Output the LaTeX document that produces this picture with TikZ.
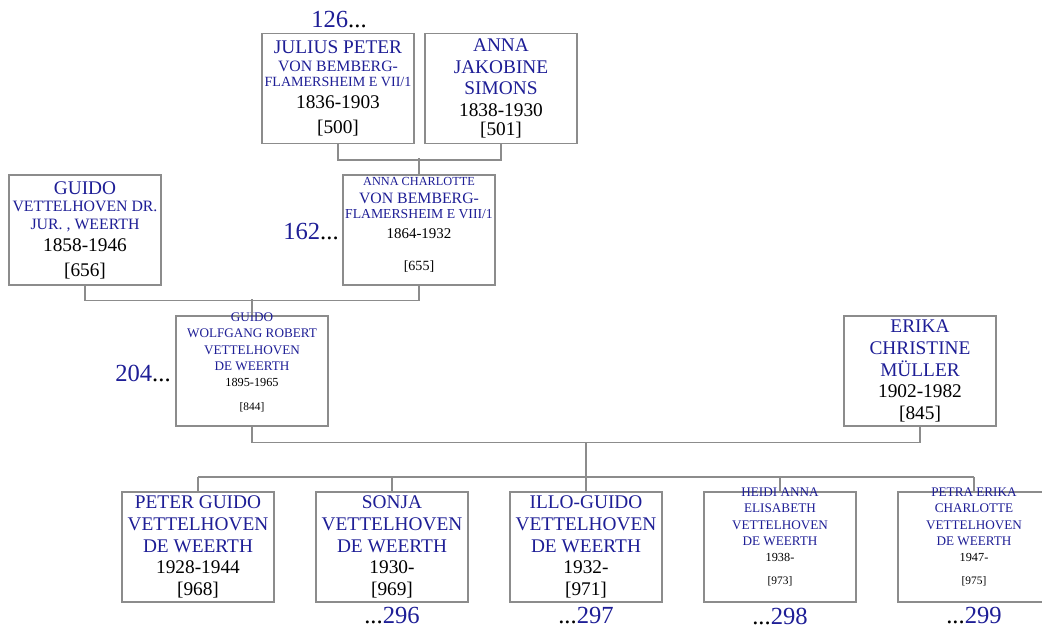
\documentclass[tikz,border=0pt]{standalone}
\usepackage{fontspec}
\setmainfont{Liberation Serif}
\usepackage{xcolor}
\usepackage{tikz}
\usetikzlibrary{positioning,calc}
\definecolor{nameblue}{HTML}{1E1E96}
\definecolor{framegray}{HTML}{8C8C8C}
\newcommand{\lsp}{1.12}
\newcommand{\nline}[2]{{\baselineskip=\lsp\dimexpr#1pt\relax\noindent\hbox to\hsize{\hss\fontsize{#1}{#1}\selectfont\color{nameblue}#2\hss}\par}}
\newcommand{\dline}[2]{{\baselineskip=\lsp\dimexpr#1pt\relax\noindent\hbox to\hsize{\hss\fontsize{#1}{#1}\selectfont#2\hss}\par}}

\begin{document}
\begin{tikzpicture}[
  x=0.02cm,y=-0.02cm,
  person/.style={draw=framegray,line width=0.65pt,fill=white,minimum width=3.04cm,minimum height=2.2cm,
    text width=3.04cm,inner sep=0pt,align=flush center,font={\parindent=0pt}},
  compact/.style={person,font={\parindent=0pt\def\lsp{1.25}}},
  link/.style={draw=framegray,line width=0.7pt},
  refno/.style={inner sep=0pt,font=\fontsize{14}{14}\selectfont}
]
\useasboundingbox (0,0) rectangle (1042,627);

\node[person] (jp) at (338,88.5) {
  \nline{11}{JULIUS PETER}
  \nline{9}{VON BEMBERG-}
  \nline{8}{FLAMERSHEIM E VII/1}
  \dline{11}{1836-1903}\vspace{2pt}
  \dline{11}{[500]}
};
\node[person] (ajs) at (501,88.5) {
  \nline{11}{ANNA}
  \nline{11}{JAKOBINE}
  \nline{11}{SIMONS}
  \dline{11}{1838-1930}\vspace{-1.5pt}
  \dline{11}{[501]}
};
\node[refno] (r126) at (339,20) {\textcolor{nameblue}{126}...};

\node[person] (gv) at (85,230) {
  \nline{11}{GUIDO}
  \nline{9}{VETTELHOVEN DR.}
  \nline{9}{JUR. , WEERTH}
  \dline{11}{1858-1946}\vspace{2pt}
  \dline{11}{[656]}
};
\node[person] (ac) at (419,230) {
  \vspace{-9pt}
  \nline{7}{ANNA CHARLOTTE}
  \nline{9}{VON BEMBERG-}
  \nline{7.8}{FLAMERSHEIM E VIII/1}\vspace{2pt}
  \dline{8.5}{1864-1932}\vspace{9pt}
  \dline{8}{[655]}
};
\node[refno,anchor=east] (r162) at (339,232) {\textcolor{nameblue}{162}...};
\draw[link] (jp.south) -- ++(0,16) -| (ajs.south);
\draw[link] (ac.north) -- ++(0,-16);

\node[compact] (gw) at (252,371) {
  \vspace{-14pt}
  \nline{7.5}{GUIDO}
  \nline{7.5}{WOLFGANG ROBERT}
  \nline{7.5}{VETTELHOVEN}
  \nline{7.5}{DE WEERTH}
  \dline{7}{1895-1965}\vspace{6pt}
  \dline{6.5}{[844]}
};
\node[person] (ecm) at (920,371) {
  \nline{11}{ERIKA}
  \nline{11}{CHRISTINE}
  \nline{11}{MÜLLER}
  \dline{11}{1902-1982}
  \dline{11}{[845]}
};
\node[refno,anchor=east] (r204) at (171,373) {\textcolor{nameblue}{204}...};
\draw[link] (gv.south) -- ++(0,15) -| (ac.south);
\draw[link] (gw.north) -- ++(0,-16);

\node[person] (pgv) at (198,547) {
  \nline{11}{PETER GUIDO}
  \nline{11}{VETTELHOVEN}
  \nline{11}{DE WEERTH}
  \dline{11}{1928-1944}
  \dline{11}{[968]}
};
\node[person] (svw) at (392,547) {
  \nline{11}{SONJA}
  \nline{11}{VETTELHOVEN}
  \nline{11}{DE WEERTH}
  \dline{11}{1930-}
  \dline{11}{[969]}
};
\node[person] (igv) at (586,547) {
  \nline{11}{ILLO-GUIDO}
  \nline{11}{VETTELHOVEN}
  \nline{11}{DE WEERTH}
  \dline{11}{1932-}
  \dline{11}{[971]}
};
\node[compact] (hae) at (780,547) {
  \vspace{-16pt}
  \nline{7.5}{HEIDI ANNA}
  \nline{7.5}{ELISABETH}
  \nline{7.5}{VETTELHOVEN}
  \nline{7.5}{DE WEERTH}
  \dline{7}{1938-}\vspace{5pt}
  \dline{6.5}{[973]}
};
\node[compact] (pec) at (974,547) {
  \vspace{-16pt}
  \nline{7.5}{PETRA ERIKA}
  \nline{7.5}{CHARLOTTE}
  \nline{7.5}{VETTELHOVEN}
  \nline{7.5}{DE WEERTH}
  \dline{7}{1947-}\vspace{5pt}
  \dline{6.5}{[975]}
};
\node[refno] (r296) at (392,616) {...\textcolor{nameblue}{296}};
\node[refno] (r297) at (586,616) {...\textcolor{nameblue}{297}};
\node[refno] (r298) at (780,616) {...\textcolor{nameblue}{298}};
\node[refno] (r299) at (974,616) {...\textcolor{nameblue}{299}};

\coordinate (bar) at (0,477);
\draw[link] (gw.south) -- ++(0,16) coordinate (gwm) -| (ecm.south);
\draw[link] (gwm -| igv.north) -- (igv.north);
\draw[link] (pgv.north |- bar) -- (pec.north |- bar);
\foreach \c in {pgv,svw,hae,pec}
  \draw[link] (\c.north) -- (\c.north |- bar);
\end{tikzpicture}
\end{document}
